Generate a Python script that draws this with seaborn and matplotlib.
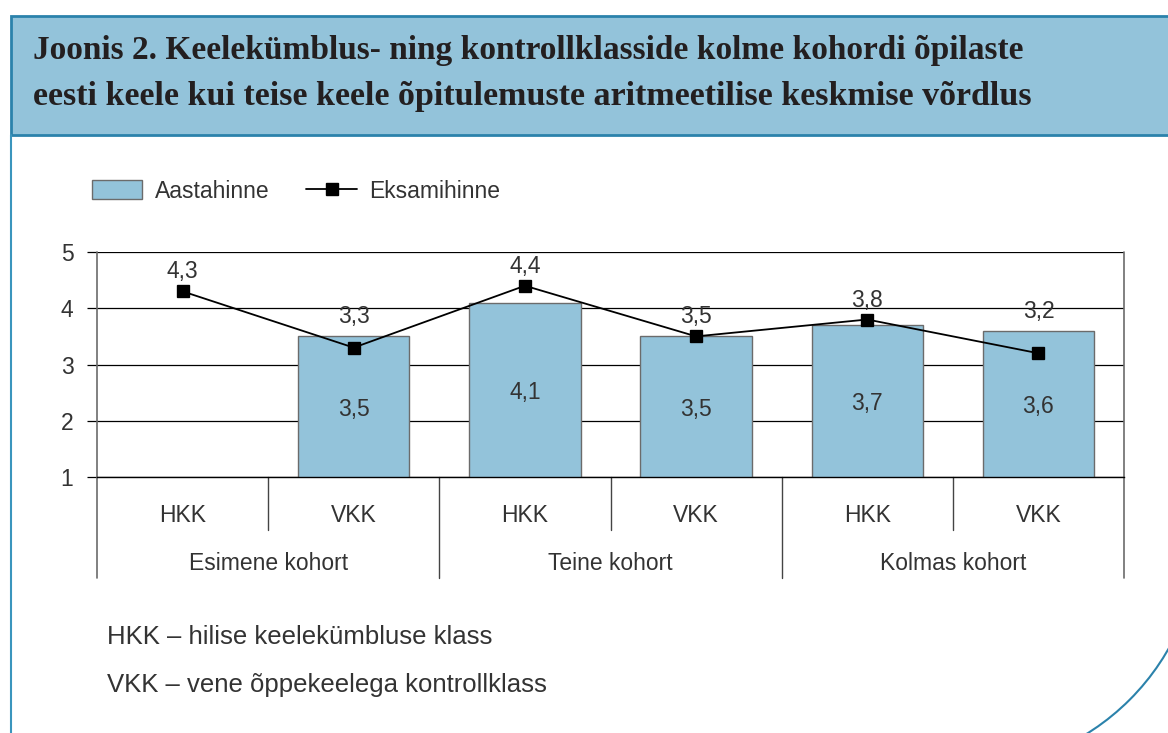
import numpy as np
import pandas as pd
import matplotlib.pyplot as plt
import seaborn as sns
from matplotlib.patches import Rectangle, Arc, Patch
from matplotlib.lines import Line2D

# data
cohorts = ['Esimene kohort', 'Teine kohort', 'Kolmas kohort']
classes = ['HKK', 'VKK', 'HKK', 'VKK', 'HKK', 'VKK']
aastahinne = [np.nan, 3.5, 4.1, 3.5, 3.7, 3.6]
eksamihinne = [4.3, 3.3, 4.4, 3.5, 3.8, 3.2]
keys = ['E-HKK', 'E-VKK', 'T-HKK', 'T-VKK', 'K-HKK', 'K-VKK']

df = pd.DataFrame({'key': keys, 'klass': classes,
                   'aasta': aastahinne, 'eksam': eksamihinne})

sns.set_theme(style='white')
plt.rcParams['font.family'] = ['Liberation Sans', 'DejaVu Sans']
txt = '#333333'
bar_col = '#93c3da'
frame_col = '#2b82ab'
fs = 16.5

W, H = 1168, 733
fig = plt.figure(figsize=(W / 100, H / 100), dpi=100)

# background layer in pixel coordinates
bg = fig.add_axes([0, 0, 1, 1], zorder=0)
bg.set_xlim(0, W)
bg.set_ylim(H, 0)
bg.axis('off')
bg.add_patch(Rectangle((11, 16), W, 119, facecolor=bar_col,
                       edgecolor=frame_col, lw=2))
bg.plot([11, 11], [135, H], color='#3a95bd', lw=1.5)
bg.add_patch(Arc((960, 530), 480, 480, theta1=0, theta2=90,
                 color=frame_col, lw=1.5))
bg.text(33, 51, 'Joonis 2. Keelekümblus- ning kontrollklasside kolme kohordi õpilaste',
        family='Liberation Serif', weight='bold', fontsize=24, color='#231f20',
        va='center')
bg.text(33, 96, 'eesti keele kui teise keele õpitulemuste aritmeetilise keskmise võrdlus',
        family='Liberation Serif', weight='bold', fontsize=24.5, color='#231f20',
        va='center')
bg.text(107, 637, 'HKK – hilise keelekümbluse klass', fontsize=18.5,
        color=txt, va='center')
bg.text(107, 685, 'VKK – vene õppekeelega kontrollklass', fontsize=18.5,
        color=txt, va='center')

# main chart
ax = fig.add_axes([97 / W, 256 / H, 1027 / W, 225 / H], zorder=1)
ax.patch.set_alpha(0)

sns.barplot(data=df, x='key', y='aasta', order=keys, color=bar_col,
            saturation=1, width=0.65, edgecolor='#6b6b6b', linewidth=1,
            errorbar=None, ax=ax, zorder=2)
sns.pointplot(data=df, x='key', y='eksam', order=keys, color='black',
              markers='s', markersize=9, linewidth=1.3, errorbar=None,
              ax=ax, zorder=3)

ax.set_ylim(1, 5)
ax.set_xlim(-0.5, len(keys) - 0.5)
ax.set_yticks([1, 2, 3, 4, 5])
ax.yaxis.grid(True, color='black', lw=0.9)
ax.set_axisbelow(True)
ax.set_xticks([])
ax.set_xlabel('')
ax.set_ylabel('')
ax.tick_params(axis='y', left=True, length=7, width=0.9, color='black',
               labelsize=fs, labelcolor=txt, pad=10)
for s in ['top', 'left', 'right']:
    ax.spines[s].set_visible(False)
ax.spines['bottom'].set_color('black')
ax.spines['bottom'].set_linewidth(1)

# value labels: line value above whichever is higher, bar value in the middle
for i, v in enumerate(eksamihinne):
    top = v if np.isnan(aastahinne[i]) else max(v, aastahinne[i])
    ax.annotate(f'{v:.1f}'.replace('.', ','), (i, top), xytext=(0, 14),
                textcoords='offset points', ha='center', va='center',
                fontsize=fs, color=txt)
for i, v in enumerate(aastahinne):
    if not np.isnan(v):
        ax.annotate(f'{v:.1f}'.replace('.', ','), (i, (1 + v) / 2),
                    xytext=(0, -2), textcoords='offset points', ha='center',
                    va='center', fontsize=fs, color=txt, zorder=4)

# category axis below
tr = ax.get_xaxis_transform()
for x in [-0.5, len(keys) - 0.5]:
    ax.plot([x, x], [1, -0.45], transform=tr, color='#6b6b6b', lw=1.2,
            clip_on=False)
for x in [1.5, 3.5]:
    ax.plot([x, x], [0, -0.45], transform=tr, color='#444444', lw=1,
            clip_on=False)
for x in [0.5, 2.5, 4.5]:
    ax.plot([x, x], [0, -0.235], transform=tr, color='#444444', lw=1,
            clip_on=False)
for i, c in enumerate(classes):
    ax.text(i, -0.17, c, transform=tr, ha='center', va='center',
            fontsize=fs, color=txt)
for j, c in enumerate(cohorts):
    ax.text(2 * j + 0.5, -0.385, c, transform=tr, ha='center', va='center',
            fontsize=fs, color=txt)

# legend
handles = [Patch(facecolor=bar_col, edgecolor='#6b6b6b', lw=1),
           Line2D([], [], color='black', marker='s', markersize=9, lw=1.3)]
fig.legend(handles, ['Aastahinne', 'Eksamihinne'], loc='center left',
           bbox_to_anchor=(92 / W, 1 - 191 / H), ncol=2, frameon=False,
           fontsize=fs, labelcolor=txt, handlelength=2.2, handleheight=0.85,
           handletextpad=0.55, columnspacing=1.6, borderpad=0,
           borderaxespad=0)

fig.savefig('out.png', dpi=100)
